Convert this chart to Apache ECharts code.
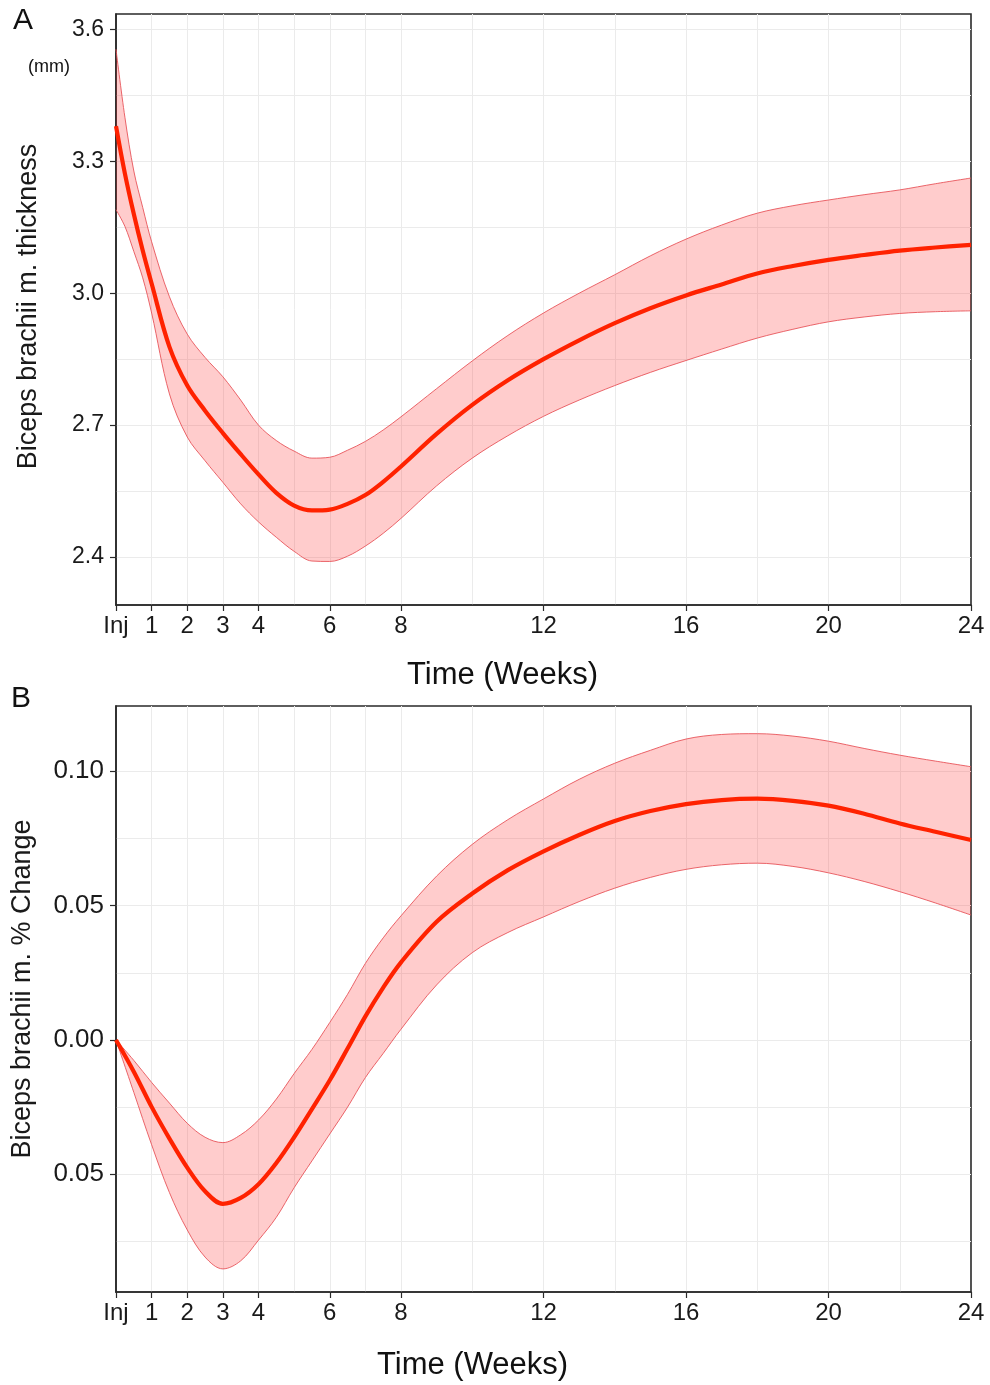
<!DOCTYPE html>
<html><head><meta charset="utf-8">
<script src="https://cdn.jsdelivr.net/npm/echarts@6/dist/echarts.min.js"></script>
<style>html,body{margin:0;padding:0;background:#fff}#c{width:990px;height:1385px}</style>
</head><body><div id="c"></div>
<script>
// ---- Panel A: Biceps brachii m. thickness (mm) ----
const weeksA = [0,0.25,0.5,0.75,1,1.5,2,2.5,3,3.5,4,4.5,5,5.5,6,6.5,7,7.5,8,9,10,11,12,13,14,15,16,17,18,19,20,21,22,23,24];
const meanA  = [3.380,3.272,3.180,3.097,3.022,2.878,2.790,2.733,2.682,2.634,2.588,2.546,2.517,2.506,2.508,2.521,2.541,2.571,2.606,2.680,2.746,2.802,2.850,2.893,2.932,2.966,2.995,3.020,3.045,3.062,3.076,3.087,3.097,3.104,3.110];
const upperA = [3.555,3.400,3.278,3.195,3.117,2.992,2.907,2.854,2.810,2.757,2.700,2.665,2.641,2.625,2.627,2.643,2.663,2.689,2.719,2.783,2.846,2.904,2.955,3.000,3.042,3.085,3.123,3.155,3.182,3.199,3.212,3.224,3.235,3.249,3.262];
const lowerA = [3.190,3.152,3.095,3.035,2.955,2.771,2.673,2.619,2.570,2.521,2.480,2.445,2.413,2.391,2.390,2.402,2.425,2.454,2.488,2.562,2.625,2.676,2.720,2.757,2.790,2.820,2.847,2.873,2.898,2.918,2.935,2.946,2.954,2.958,2.960];

// ---- Panel B: Biceps brachii m. % Change ----
const weeksB = [0,0.5,1,1.5,2,2.5,3,3.5,4,4.5,5,5.5,6,6.5,7,7.5,8,9,10,11,12,13,14,15,16,17,18,19,20,21,22,23,24];
const meanB  = [0,-0.0118,-0.0249,-0.0367,-0.0475,-0.0563,-0.0610,-0.0588,-0.0537,-0.0458,-0.0362,-0.0257,-0.0150,-0.0032,0.0088,0.0195,0.0289,0.0440,0.0545,0.0632,0.0702,0.0763,0.0815,0.0852,0.0878,0.0893,0.0898,0.0890,0.0872,0.0842,0.0806,0.0775,0.0744];
const upperB = [0,-0.0076,-0.0158,-0.0235,-0.0310,-0.0362,-0.0382,-0.0353,-0.0298,-0.0220,-0.0125,-0.0035,0.0065,0.0170,0.0285,0.0380,0.0462,0.0610,0.0728,0.0820,0.0897,0.0970,0.1030,0.1078,0.1120,0.1137,0.1140,0.1131,0.1112,0.1085,0.1060,0.1038,0.1017];
const lowerB = [0,-0.0195,-0.0390,-0.0568,-0.0707,-0.0808,-0.0852,-0.0822,-0.0745,-0.0660,-0.0550,-0.0450,-0.0350,-0.0250,-0.0140,-0.0050,0.0040,0.0205,0.0325,0.0400,0.0458,0.0515,0.0565,0.0605,0.0635,0.0652,0.0658,0.0646,0.0622,0.0590,0.0552,0.0510,0.0465];

// ---- ticks / labels ----
const xTickValues = [0,1,2,3,4,6,8,12,16,20,24];
const xTickLabels = ['Inj','1','2','3','4','6','8','12','16','20','24'];
const xGridValues = [1,2,3,4,5,6,7,8,10,12,14,16,18,20,22];
const yTickA = [2.4,2.7,3.0,3.3,3.6];
const yGridA = [2.4,2.55,2.7,2.85,3.0,3.15,3.3,3.45,3.6];
const yTickB = [-0.05,0,0.05,0.10];
const yTickLabelsB = ['0.05','0.00','0.05','0.10'];
const yGridB = [-0.075,-0.05,-0.025,0,0.025,0.05,0.075,0.1];

const FONT = 'Liberation Sans, Arial, sans-serif';
const RED = '#ff2200';
const EDGE = '#e8555a';
const FILL = 'rgba(255,40,40,0.24)';
const AXIS = '#2a2a2a';
const GRIDC = '#ebebeb';

// rows are [value, week]; encode maps week -> x, value -> y (so stacking works on y)
function rows(xs, ys){ return xs.map((x,i)=>[ys[i], x]); }
function diff(up, lo){ return up.map((u,i)=>u - lo[i]); }

function xAxes(gi){
  return [
    { gridIndex: gi, type:'value', min:0, max:24, position:'bottom',
      axisLine:{show:true, onZero:false, lineStyle:{color:AXIS, width:1.6}},
      axisTick:{show:true, customValues:xTickValues, length:6, lineStyle:{color:AXIS, width:1.2}},
      axisLabel:{customValues:xTickValues, margin:9, fontFamily:FONT, fontSize:24, color:'#1a1a1a',
        formatter:(v)=>xTickLabels[xTickValues.indexOf(v)]},
      splitLine:{show:false} },
    { gridIndex: gi, type:'value', min:0, max:24, position:'top',
      axisLine:{show:false}, axisTick:{show:false, customValues:xGridValues}, axisLabel:{show:false},
      splitLine:{show:true, lineStyle:{color:GRIDC, width:1}} }
  ];
}
function yAxes(gi, min, max, ticks, labels, gridVals, fs, name, gap, shift){
  return [
    { gridIndex: gi, type:'value', min:min, max:max, position:'left',
      name:name, nameLocation:'middle', nameGap:gap,
      nameTextStyle:{fontFamily:FONT, fontSize:27, color:'#1a1a1a', padding:[0,0,0,shift]},
      axisLine:{show:true, onZero:false, lineStyle:{color:AXIS, width:1.6}},
      axisTick:{show:true, customValues:ticks, length:6, lineStyle:{color:AXIS, width:1.2}},
      axisLabel:{customValues:ticks, margin:12, fontFamily:FONT, fontSize:fs, color:'#1a1a1a',
        formatter:(v)=>labels[ticks.findIndex(t=>Math.abs(t-v)<1e-9)]},
      splitLine:{show:false} },
    { gridIndex: gi, type:'value', min:min, max:max, position:'right',
      axisLine:{show:false}, axisTick:{show:false, customValues:gridVals}, axisLabel:{show:false},
      splitLine:{show:true, lineStyle:{color:GRIDC, width:1}} }
  ];
}
function bandSeries(xi, yi, weeks, lower, upper, mean, key){
  const enc = {x:1, y:0};
  return [
    { type:'line', xAxisIndex:xi, yAxisIndex:yi, data:rows(weeks, lower), encode:enc, stack:key, stackStrategy:'all',
      smooth:0.35, symbol:'none', lineStyle:{color:EDGE, width:0.9}, silent:true, z:3 },
    { type:'line', xAxisIndex:xi, yAxisIndex:yi, data:rows(weeks, diff(upper, lower)), encode:enc, stack:key, stackStrategy:'all',
      smooth:0.35, symbol:'none', lineStyle:{color:EDGE, width:0.9}, areaStyle:{color:FILL, opacity:1}, silent:true, z:3 },
    { type:'line', xAxisIndex:xi, yAxisIndex:yi, data:rows(weeks, mean), encode:enc,
      smooth:0.35, symbol:'none', lineStyle:{color:RED, width:4.2}, silent:true, z:5 }
  ];
}

const chart = echarts.init(document.getElementById('c'), null, {renderer:'canvas'});
chart.setOption({
  animation:false,
  backgroundColor:'#ffffff',
  grid:[
    {left:116, right:19, top:14, height:591, show:true, borderColor:AXIS, borderWidth:1.6, backgroundColor:'transparent'},
    {left:116, right:19, top:706, height:586, show:true, borderColor:AXIS, borderWidth:1.6, backgroundColor:'transparent'}
  ],
  xAxis: xAxes(0).concat(xAxes(1)),
  yAxis: yAxes(0, 2.291, 3.635, yTickA, yTickA.map(v=>v.toFixed(1)), yGridA, 23, 'Biceps brachii m. thickness', 74, 6)
    .concat(yAxes(1, -0.0938, 0.1243, yTickB, yTickLabelsB, yGridB, 26, 'Biceps brachii m. % Change', 80, 20)),
  series: bandSeries(0, 0, weeksA, lowerA, upperA, meanA, 'A')
    .concat(bandSeries(2, 2, weeksB, lowerB, upperB, meanB, 'B')),
  graphic:[
    {type:'text', left:13, top:6, style:{text:'A', font:'30px '+FONT, fill:'#111'}},
    {type:'text', left:28, top:58, style:{text:'(mm)', font:'18px '+FONT, fill:'#111'}},
    {type:'text', left:11, top:684, style:{text:'B', font:'30px '+FONT, fill:'#111'}},
    {type:'text', left:407, top:660, style:{text:'Time (Weeks)', font:'31px '+FONT, fill:'#111'}},
    {type:'text', left:377, top:1350, style:{text:'Time (Weeks)', font:'31px '+FONT, fill:'#111'}}
  ]
});
</script></body></html>
